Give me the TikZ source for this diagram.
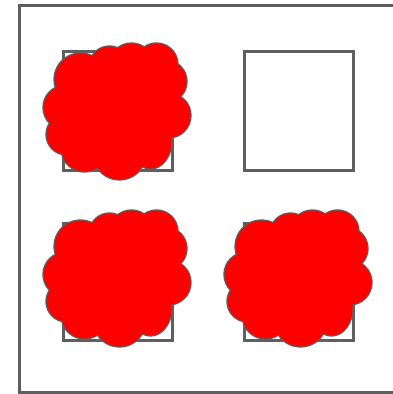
\documentclass[tikz,border=0pt]{standalone}
\definecolor{edge}{HTML}{5F5F5F}
\newcommand{\puffset}{%
  (-37,-32) circle[radius=26pt]
  (-8,-45) circle[radius=20pt]
  (14,-46) circle[radius=22pt]
  (39,-47) circle[radius=21pt]
  (48,-30) circle[radius=21pt]
  (51,4) circle[radius=22pt]
  (33,29) ellipse[x radius=21pt,y radius=28pt]
  (2,42) circle[radius=26pt]
  (-33,37) circle[radius=23pt]
  (-51,23) circle[radius=20pt]
  (-52,-4) circle[radius=22pt]
  (0,0) ellipse[x radius=55pt,y radius=50pt]}
\tikzset{
  box/.style={draw=edge,line width=3pt,fill=white},
  redcloud/.pic={
    \draw[edge,line width=2.4pt] \puffset;
    \fill[red] \puffset;
  }
}
\begin{document}
\begin{tikzpicture}[x=1pt,y=-1pt]
\useasboundingbox (0,0) rectangle (393,394);
\clip (0,0) rectangle (393,394);
\draw[box] (19,5) rectangle (405,392);
\draw[box] (63,51) rectangle (172,170);
\draw[box] (244,51) rectangle (353,170);
\draw[box] (63,223) rectangle (172,340);
\draw[box] (244,223) rectangle (353,340);
\pic (c1) at (117.5,111.5) {redcloud};
\pic (c2) at (117.5,278.5) {redcloud};
\pic (c3) at (298.5,278.5) {redcloud};
\end{tikzpicture}
\end{document}
